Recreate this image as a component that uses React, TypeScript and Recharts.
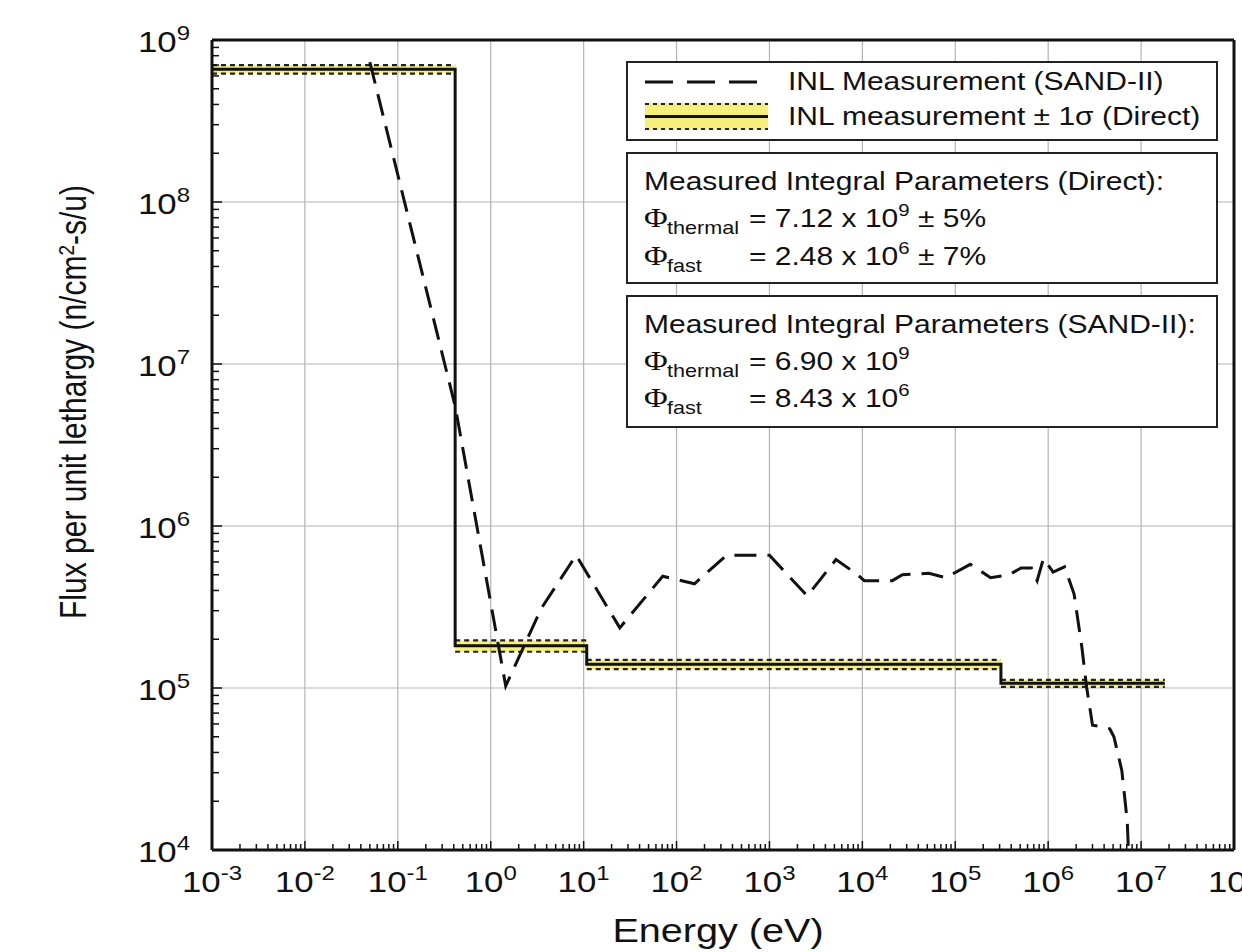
import React from "react";
import { ComposedChart, Line, XAxis, YAxis, ReferenceLine, ReferenceArea } from "recharts";

const W = 1242;
const H = 952;
const PLOT_LEFT = 212;
const PLOT_BOTTOM = 850;
const FONT = '"Liberation Sans", Arial, Helvetica, sans-serif';
const SERIF = '"Liberation Serif", "DejaVu Serif", serif';
const STRETCH = 1.2; // the original figure is a bit wide

// SAND-II unfolded spectrum: energy (eV) and flux per unit lethargy
const sandEnergy = [
  0.05, 0.414, 1.45, 3.5, 8.3, 24.5, 71, 156, 345, 1000, 2550, 5200, 8500, 1.05e4, 2.1e4,
  2.7e4, 5.2e4, 7.9e4, 1.45e5, 2.4e5, 3.8e5, 5.1e5, 6.6e5, 7.6e5, 8.9e5, 1.13e6, 1.5e6,
  1.9e6, 2.3e6, 2.6e6, 3.0e6, 3.6e6, 4.6e6, 5.1e6, 6.2e6, 7.1e6, 7.3e6,
];
const sandFlux = [
  7.3e8, 5.5e6, 1.03e5, 3.1e5, 6.6e5, 2.35e5, 4.9e5, 4.4e5, 6.6e5, 6.6e5, 3.7e5, 6.2e5, 5.1e5,
  4.6e5, 4.6e5, 5.0e5, 5.1e5, 4.8e5, 5.8e5, 4.8e5, 5.0e5, 5.5e5, 5.5e5, 4.6e5, 6.3e5, 5.2e5,
  5.6e5, 3.8e5, 1.8e5, 1.0e5, 5.9e4, 5.8e4, 5.6e4, 5.0e4, 3.1e4, 1.5e4, 1.0e4,
];

// direct measurement: group boundaries (eV), group flux, relative 1-sigma
const groupEdges = [1e-3, 0.414, 10.8, 3.1e5, 1.8e7];
const groupFlux = [6.6e8, 1.82e5, 1.4e5, 1.07e5];
const groupSigma = [0.06, 0.08, 0.066, 0.05];

const xDecades = [1e-3, 1e-2, 1e-1, 1, 1e1, 1e2, 1e3, 1e4, 1e5, 1e6, 1e7, 1e8];
const yDecades = [1e4, 1e5, 1e6, 1e7, 1e8, 1e9];

const withMinors = (decades: number[]) => {
  const out: number[] = [];
  decades.forEach((d, i) => {
    out.push(d);
    if (i < decades.length - 1) for (let k = 2; k <= 9; k++) out.push(d * k);
  });
  return out;
};

const sandData = sandEnergy.map((x, i) => ({ x, y: sandFlux[i] }));
const stepData = groupEdges.map((x, i) => ({ x, y: groupFlux[Math.min(i, groupFlux.length - 1)] }));

const isDecade = (v: number) => Math.abs(Math.log10(v) - Math.round(Math.log10(v))) < 1e-6;

function SText({ x, y, size, anchor = "start", family = FONT, children }: any) {
  return (
    <text
      transform={`translate(${x} ${y}) scale(${STRETCH} 1)`}
      fontFamily={family}
      fontSize={size}
      textAnchor={anchor}
      fill="#111"
    >
      {children}
    </text>
  );
}

const XTick = ({ x, payload }: any) => {
  const v = payload.value;
  const major = isDecade(v);
  const e = Math.round(Math.log10(v));
  return (
    <g>
      <line x1={x} x2={x} y1={PLOT_BOTTOM} y2={PLOT_BOTTOM - (major ? 9 : 6)} stroke="#111" strokeWidth={1.5} />
      {major && (
        <SText x={x} y={892} size={29} anchor="middle">
          10<tspan dy={-12} fontSize={20}>{e}</tspan>
        </SText>
      )}
    </g>
  );
};

const YTick = ({ y, payload }: any) => {
  const v = payload.value;
  const major = isDecade(v);
  const e = Math.round(Math.log10(v));
  return (
    <g>
      <line x1={PLOT_LEFT} x2={PLOT_LEFT + (major ? 10 : 7)} y1={y} y2={y} stroke="#111" strokeWidth={1.5} />
      {major && (
        <SText x={PLOT_LEFT - 22} y={y + 12} size={29} anchor="end">
          10<tspan dy={-12} fontSize={20}>{e}</tspan>
        </SText>
      )}
    </g>
  );
};

function Phi({ y, sub, text, sup, tail }: any) {
  return (
    <g>
      <SText x={644} y={y} size={27} family={SERIF}>Φ</SText>
      <SText x={667} y={y + 7} size={18}>{sub}</SText>
      <SText x={749} y={y} size={25}>
        {text}
        <tspan dy={-11} fontSize={17}>{sup}</tspan>
        {tail && <tspan dy={11}>{tail}</tspan>}
      </SText>
    </g>
  );
}

function Boxes() {
  return (
    <svg width={W} height={H} style={{ position: "absolute", left: 0, top: 0, pointerEvents: "none" }}>
      <rect x={627} y={62} width={590} height={78} fill="#fff" stroke="#222" strokeWidth={2} />
      <line x1={645} x2={767} y1={82} y2={82} stroke="#111" strokeWidth={3} strokeDasharray="28 14" />
      <SText x={788} y={90} size={25}>INL Measurement (SAND-II)</SText>
      <rect x={645} y={103} width={123} height={27} fill="#f6ef7c" />
      <line x1={645} x2={768} y1={116.5} y2={116.5} stroke="#111" strokeWidth={3} />
      <line x1={645} x2={768} y1={104} y2={104} stroke="#222" strokeWidth={2} strokeDasharray="4 4" />
      <line x1={645} x2={768} y1={129} y2={129} stroke="#222" strokeWidth={2} strokeDasharray="4 4" />
      <SText x={788} y={125} size={25}>INL measurement ± 1σ (Direct)</SText>

      <rect x={627} y={153} width={590} height={130} fill="#fff" stroke="#222" strokeWidth={2} />
      <SText x={644} y={190} size={25}>Measured Integral Parameters (Direct):</SText>
      <Phi y={227} sub="thermal" text="= 7.12 x 10" sup="9" tail=" ± 5%" />
      <Phi y={265} sub="fast" text="= 2.48 x 10" sup="6" tail=" ± 7%" />

      <rect x={627} y={296} width={590} height={131} fill="#fff" stroke="#222" strokeWidth={2} />
      <SText x={644} y={333} size={25}>Measured Integral Parameters (SAND-II):</SText>
      <Phi y={370} sub="thermal" text="= 6.90 x 10" sup="9" />
      <Phi y={407} sub="fast" text="= 8.43 x 10" sup="6" />

      <SText x={718} y={942} size={33} anchor="middle">Energy (eV)</SText>
      <text
        transform={`translate(86 402) scale(${STRETCH} 1) rotate(-90)`}
        fontFamily={FONT}
        fontSize={30}
        textAnchor="middle"
        fill="#111"
      >
        Flux per unit lethargy (n/cm<tspan dy={-10} fontSize={19}>2</tspan>
        <tspan dy={10}>-s/u)</tspan>
      </text>
    </svg>
  );
}

export default function App() {
  return (
    <div style={{ position: "absolute", left: 0, top: 0, width: W, height: H, background: "#fff" }}>
      <ComposedChart width={W} height={H} margin={{ top: 40, right: 8, bottom: 42, left: 92 }}>
        <XAxis
          dataKey="x"
          type="number"
          scale="log"
          domain={[1e-3, 1e8]}
          allowDataOverflow
          ticks={withMinors(xDecades)}
          interval={0}
          tick={XTick}
          tickLine={false}
          height={60}
          axisLine={{ stroke: "#111", strokeWidth: 3 }}
        />
        <YAxis
          dataKey="y"
          type="number"
          scale="log"
          domain={[1e4, 1e9]}
          allowDataOverflow
          ticks={withMinors(yDecades)}
          interval={0}
          tick={YTick}
          tickLine={false}
          width={120}
          axisLine={{ stroke: "#111", strokeWidth: 3 }}
        />
        {xDecades.slice(1, -1).map((v) => (
          <ReferenceLine key={`gx${v}`} x={v} stroke="#b4b4b4" strokeWidth={1.2} />
        ))}
        {yDecades.slice(1, -1).map((v) => (
          <ReferenceLine key={`gy${v}`} y={v} stroke="#b4b4b4" strokeWidth={1.2} />
        ))}
        {groupFlux.map((f, i) => (
          <ReferenceArea
            key={`band${i}`}
            x1={groupEdges[i]}
            x2={groupEdges[i + 1]}
            y1={f * (1 - groupSigma[i])}
            y2={f * (1 + groupSigma[i])}
            fill="#f6ef7c"
            fillOpacity={1}
            stroke="none"
          />
        ))}
        {groupFlux.map((f, i) =>
          [1 + groupSigma[i], 1 - groupSigma[i]].map((m, j) => (
            <Line
              key={`edge${i}-${j}`}
              data={[
                { x: groupEdges[i], y: f * m },
                { x: groupEdges[i + 1], y: f * m },
              ]}
              dataKey="y"
              stroke="#222"
              strokeWidth={2.2}
              strokeDasharray="5 4"
              dot={false}
              isAnimationActive={false}
            />
          ))
        )}
        <Line
          data={stepData}
          dataKey="y"
          type="stepAfter"
          stroke="#111"
          strokeWidth={3}
          dot={false}
          isAnimationActive={false}
        />
        <Line
          data={sandData}
          dataKey="y"
          type="linear"
          stroke="#111"
          strokeWidth={3}
          strokeDasharray="22 11"
          dot={false}
          isAnimationActive={false}
        />
        <ReferenceLine y={1e9} stroke="#111" strokeWidth={3} />
        <ReferenceLine x={1e8} stroke="#111" strokeWidth={3} />
      </ComposedChart>
      <Boxes />
    </div>
  );
}
